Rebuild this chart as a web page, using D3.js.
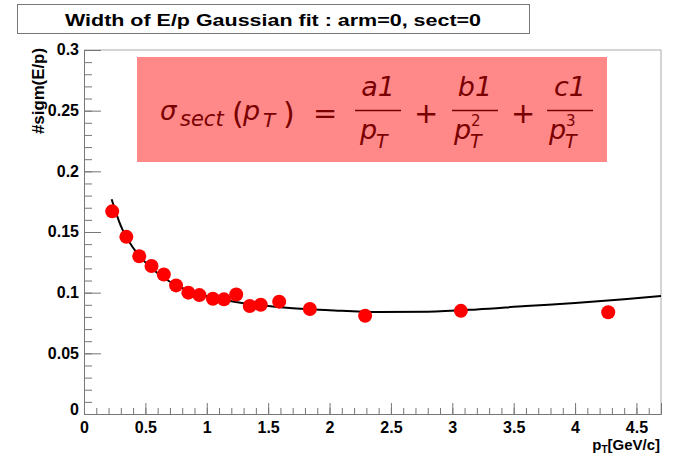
<!DOCTYPE html>
<html>
<head>
<meta charset="utf-8">
<script src="https://cdn.jsdelivr.net/npm/d3@7"></script>
<style>
  body { margin: 0; background: #fff; }
  text { font-family: "Liberation Sans", Arial, sans-serif; }
</style>
</head>
<body>
<div class="content"></div>
<script>
// measured points: pT [GeV/c] and width of E/p
const ptVals    = [0.23, 0.345, 0.45, 0.55, 0.65, 0.75, 0.85, 0.94, 1.05, 1.14, 1.24, 1.35, 1.44, 1.59, 1.84, 2.29, 3.07, 4.27];
const sigmVals  = [0.167, 0.146, 0.130, 0.122, 0.115, 0.106, 0.100, 0.098, 0.095, 0.0945, 0.0985, 0.089, 0.090, 0.0926, 0.0865, 0.081, 0.085, 0.0838];
// fit curve
const fitPt     = [0.225, 0.3, 0.4, 0.5, 0.6, 0.7, 0.8, 0.9, 1.0, 1.2, 1.4, 1.6, 1.8, 2.0, 2.4, 2.8, 3.2, 3.6, 4.0, 4.4, 4.7];
const fitSigm   = [0.177, 0.155, 0.137, 0.125, 0.116, 0.109, 0.104, 0.100, 0.097, 0.093, 0.090, 0.088, 0.0865, 0.0855, 0.084, 0.0843, 0.0862, 0.089, 0.0915, 0.0945, 0.0972];
const xMajor    = [0, 0.5, 1, 1.5, 2, 2.5, 3, 3.5, 4, 4.5];
const yMajor    = [0, 0.05, 0.1, 0.15, 0.2, 0.25, 0.3];

const W = 673, H = 455;
const margin = { top: 50, right: 12, bottom: 41, left: 84 };

const svg = d3.select('.content').append('svg')
    .attr('width', W).attr('height', H);

const x = d3.scaleLinear().domain([0, 4.7]).range([margin.left, W - margin.right]);
const y = d3.scaleLinear().domain([0, 0.3]).range([H - margin.bottom, margin.top]);

const xMinor = d3.range(0, 47).map(i => i / 10);
const yMinor = d3.range(0, 31).map(i => i / 100);

const axisCol = '#777';

// title box
svg.append('rect')
    .attr('x', 17.5).attr('y', 4.5).attr('width', 512).attr('height', 29)
    .attr('fill', '#fff').attr('stroke', axisCol);
svg.append('text')
    .attr('x', 273).attr('y', 26)
    .attr('text-anchor', 'middle')
    .attr('font-size', 17).attr('font-weight', 'bold')
    .attr('textLength', 416).attr('lengthAdjust', 'spacingAndGlyphs')
    .text('Width of E/p Gaussian fit : arm=0, sect=0');

// frame (top & right)
svg.append('path')
    .attr('d', `M${x(0)},${y(0.3)}H${x(4.7)}V${y(0)}`)
    .attr('fill', 'none').attr('stroke', '#aaa');

// x axis
const gx = svg.append('g').attr('transform', `translate(0,${y(0)})`);
gx.call(d3.axisBottom(x).tickValues(xMinor).tickSize(-6).tickFormat(''))
  .call(g => g.select('.domain').remove());
gx.append('g')
  .call(d3.axisBottom(x).tickValues(xMajor).tickSize(-11).tickPadding(19).tickFormat(d3.format('')))
  .call(g => g.select('.domain').attr('stroke', axisCol))
  .call(g => g.selectAll('text').attr('font-size', 16).attr('font-weight', 'bold').attr('fill', '#000').attr('dy', 0));
gx.selectAll('line').attr('stroke', axisCol);

// y axis
const gy = svg.append('g').attr('transform', `translate(${x(0)},0)`);
gy.call(d3.axisLeft(y).tickValues(yMinor).tickSize(-8).tickFormat(''))
  .call(g => g.select('.domain').remove());
gy.append('g')
  .call(d3.axisLeft(y).tickValues(yMajor).tickSize(-17).tickPadding(5).tickFormat(d3.format('')))
  .call(g => g.select('.domain').attr('stroke', axisCol))
  .call(g => g.selectAll('text').attr('font-size', 16).attr('font-weight', 'bold').attr('fill', '#000').attr('dy', '0.3em'))
  .call(g => g.selectAll('.tick').filter(d => d === 0).select('text').attr('dy', '0.05em'));
gy.selectAll('line').attr('stroke', axisCol);

// axis titles
const xt = svg.append('text')
    .attr('x', x(4.7) - 1).attr('y', 450)
    .attr('text-anchor', 'end')
    .attr('font-size', 15).attr('font-weight', 'bold');
xt.append('tspan').text('p');
xt.append('tspan').attr('font-size', 10).attr('dy', 3).text('T');
xt.append('tspan').attr('dy', -3).text('[GeV/c]');

svg.append('text')
    .attr('transform', `translate(44,${margin.top - 2}) rotate(-90)`)
    .attr('text-anchor', 'end')
    .attr('font-size', 16).attr('font-weight', 'bold')
    .attr('textLength', 86).attr('lengthAdjust', 'spacingAndGlyphs')
    .text('#sigm(E/p)');

// formula box
svg.append('rect')
    .attr('x', 137).attr('y', 57).attr('width', 470).attr('height', 105)
    .attr('fill', '#ff8888');

const fCol = '#7a0000';
const fml = svg.append('g').attr('fill', fCol);

function txt(xp, yp, s, size, italic) {
  return fml.append('text').attr('x', xp).attr('y', yp)
      .attr('font-size', size)
      .style('font-family', '"DejaVu Sans", sans-serif')
      .attr('font-style', italic ? 'italic' : 'normal')
      .text(s);
}
txt(160, 120, 'σ', 26, true);
txt(180, 126, 'sect', 21, true);
txt(232, 124, '(', 30, false);
txt(243, 120, 'p', 27, true);
txt(263, 127, 'T', 20, true);
txt(283, 124, ')', 30, false);
txt(313, 123, '=', 29, false);

function frac(cx, num, power) {
  txt(cx, 96, num, 27, true).attr('text-anchor', 'middle');
  fml.append('line').attr('x1', cx - 23).attr('x2', cx + 23)
     .attr('y1', 110.5).attr('y2', 110.5)
     .attr('stroke', fCol).attr('stroke-width', 1.5);
  const px = power ? cx - 21 : cx - 18;
  txt(px, 139, 'p', 27, true);
  txt(px + 16, 148, 'T', 19, true);
  if (power) txt(px + 17, 126, power, 15, false);
}
frac(378, 'a1', null);
txt(414, 123, '+', 29, false);
frac(475, 'b1', '2');
txt(511, 123, '+', 29, false);
frac(570, 'c1', '3');

// fit curve
svg.append('path')
    .datum(fitPt.map((p, i) => [p, fitSigm[i]]))
    .attr('fill', 'none').attr('stroke', '#000').attr('stroke-width', 2)
    .attr('d', d3.line().x(d => x(d[0])).y(d => y(d[1])).curve(d3.curveMonotoneX));

// data points
svg.selectAll('.pt')
    .data(ptVals.map((p, i) => ({ pt: p, s: sigmVals[i] })))
    .enter().append('circle')
    .attr('class', 'pt')
    .attr('cx', d => x(d.pt))
    .attr('cy', d => y(d.s))
    .attr('r', 7)
    .attr('fill', '#ff0000');
</script>
</body>
</html>
